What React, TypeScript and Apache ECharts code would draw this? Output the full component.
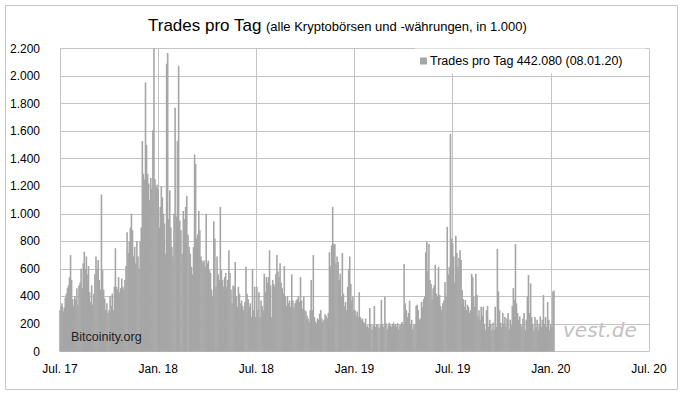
import React, { useEffect, useRef } from "react";
import * as echarts from "echarts";

// Trades per day (in 1,000), one value every 2 days starting 01.07.2017
const h2_2017 = [
  300, 330, 350, 290, 320, 390, 420, 460, 480, 540,
  700, 520, 380, 330, 400, 380, 460, 340, 480, 500,
  600, 460, 640, 725, 600, 690, 560, 620, 430, 360,
  480, 340, 420, 560, 690, 600, 665, 520, 450, 1140,
  590, 450, 385, 300, 350, 280, 300, 400, 330, 420,
  300, 470, 750, 470, 450, 540, 430, 460, 530, 470,
  450, 520, 620, 865, 715, 800, 900, 1000, 880, 690,
  760, 640, 800, 690, 600, 800, 900, 1528, 1290, 1250,
  1953, 1500, 1290, 1220, 1100, 1260, 1180, 1607, 2250, 1250,
  1190, 1210,
];
const h1_2018 = [
  1180, 900, 1050, 1200, 1120, 1000, 930, 710, 2090, 2168,
  960, 1170, 900, 760, 690, 1000, 1770, 980, 1528, 2074,
  950, 880, 710, 1020, 960, 1050, 1130, 850, 760, 710,
  615, 560, 760, 1431, 1361, 820, 850, 1020, 880, 690,
  660, 640, 660, 615, 1000, 640, 660, 590, 570, 450,
  400, 945, 820, 470, 690, 560, 520, 1050, 590, 520,
  470, 540, 570, 470, 520, 735, 570, 450, 350, 480,
  470, 650, 400, 325, 470, 420, 350, 370, 330, 300,
  360, 615, 420, 380, 325, 350, 250, 600, 300, 470, 250,
];
const h2_2018 = [
  470, 300, 430, 250, 370, 330, 300, 565, 430, 540,
  500, 540, 735, 480, 250, 520, 490, 470, 560, 700,
  580, 540, 640, 500, 460, 420, 620, 400, 330, 400,
  350, 370, 325, 560, 370, 320, 350, 370, 380, 400,
  360, 540, 370, 310, 400, 300, 290, 260, 240, 215,
  300, 520, 300, 700, 250, 220, 205, 240, 230, 275,
  300, 240, 215, 230, 270, 260, 240, 280, 720, 620,
  770, 1050, 780, 780, 640, 690, 650, 520, 565, 400,
  715, 420, 330, 360, 300, 470, 600, 690, 490, 370,
  400, 300,
];
const h1_2019 = [
  300, 260, 290, 250, 430, 250, 230, 240, 215, 205,
  240, 180, 190, 170, 315, 200, 160, 190, 330, 180,
  200, 190, 170, 190, 375, 200, 180, 400, 205, 160,
  190, 210, 190, 180, 200, 210, 190, 200, 180, 205,
  160, 190, 200, 215, 200, 635, 350, 300, 250, 280,
  370, 200, 230, 160, 190, 200, 330, 340, 300, 230,
  240, 360, 320, 380, 400, 720, 795, 580, 780, 520,
  490, 380, 460, 480, 630, 420, 400, 615, 410, 330,
  300, 350, 370, 505, 400, 905, 560, 615, 1580, 820,
  785,
];
const h2_2019 = [
  690, 500, 840, 715, 615, 680, 735, 665, 445, 380,
  325, 375, 300, 340, 325, 280, 300, 565, 540, 400,
  325, 565, 410, 255, 300, 230, 325, 260, 325, 200,
  155, 300, 330, 180, 230, 200, 155, 210, 160, 325,
  180, 745, 435, 300, 210, 180, 280, 200, 250, 180,
  240, 280, 160, 230, 190, 330, 460, 375, 780, 350,
  280, 230, 255, 200, 180, 240, 280, 155, 230, 400,
  555, 280, 495, 250, 200, 155, 250, 180, 230, 155,
  200, 255, 180, 230, 410, 200, 250, 180, 360, 230, 155,
];
const jan_2020 = [200, 180, 435, 442];

const xTickLabels = ["Jul. 17", "Jan. 18", "Jul. 18", "Jan. 19", "Jul. 19", "Jan. 20", "Jul. 20"];
const seriesName = "Trades pro Tag 442.080 (08.01.20)";
const titleMain = "Trades pro Tag";
const titleSub = "(alle Kryptobörsen und -währungen, in 1.000)";
const sourceText = "Bitcoinity.org";
const watermarkText = "vest.de";

const START_Y = 2017;
const START_M = 6; // July (0-based)
const DAY_STEP = 2;

const FONT = "'Liberation Sans', Arial, sans-serif";

function monthsSinceStart(i: number): number {
  const d = new Date(Date.UTC(START_Y, START_M, 1 + i * DAY_STEP));
  const y = d.getUTCFullYear();
  const m = d.getUTCMonth();
  const day = d.getUTCDate();
  const dim = new Date(Date.UTC(y, m + 1, 0)).getUTCDate();
  return (y - START_Y) * 12 + (m - START_M) + (day - 1) / dim;
}

function deNum(v: number): string {
  return String(v).replace(/\B(?=(\d{3})+(?!\d))/g, ".");
}

export default function App() {
  const ref = useRef<HTMLDivElement>(null);

  useEffect(() => {
    document.body.style.margin = "0";
    if (!ref.current) return;
    const chart = echarts.init(ref.current, undefined, { renderer: "svg" });
    const values = [...h2_2017, ...h1_2018, ...h2_2018, ...h1_2019, ...h2_2019, ...jan_2020];
    const data = values.map((v, i) => [monthsSinceStart(i), v]);
    const gridColor = "#c3c3c3";
    const barColor = "#a6a6a6";

    chart.setOption({
      animation: false,
      backgroundColor: "#ffffff",
      textStyle: { fontFamily: FONT },
      grid: { left: 60, right: 38, top: 48.5, bottom: 44.5 },
      xAxis: {
        type: "value",
        min: 0,
        max: 36,
        interval: 6,
        axisLine: { show: false },
        axisTick: { show: false },
        splitLine: { show: true, lineStyle: { color: gridColor, width: 1 } },
        axisLabel: {
          formatter: (v: number) => xTickLabels[Math.round(v / 6)] ?? "",
          color: "#000",
          fontSize: 12,
          fontFamily: FONT,
          margin: 11,
          showMinLabel: true,
          showMaxLabel: true,
        },
      },
      yAxis: {
        type: "value",
        min: 0,
        max: 2200,
        interval: 200,
        axisLine: { show: false },
        axisTick: { show: false },
        splitLine: { show: true, lineStyle: { color: gridColor, width: 1 } },
        axisLabel: {
          formatter: (v: number) => deNum(v),
          color: "#000",
          fontSize: 12,
          fontFamily: FONT,
          margin: 20,
        },
      },
      legend: {
        show: true,
        left: 415,
        top: 48.5,
        icon: "rect",
        itemWidth: 7,
        itemHeight: 7,
        selectedMode: false,
        backgroundColor: "#ffffff",
        padding: [6, 23, 6, 5],
        textStyle: { fontSize: 12.5, color: "#000", fontFamily: FONT, padding: [0, 0, 0, -2] },
        data: [seriesName],
      },
      series: [
        {
          type: "bar",
          name: seriesName,
          data,
          barWidth: 1.6,
          clip: true,
          itemStyle: { color: barColor },
          emphasis: { disabled: true },
        },
      ],
      graphic: [
        {
          type: "rect",
          z: 0,
          silent: true,
          shape: { x: 5.5, y: 5.5, width: 672, height: 384 },
          style: { fill: "none", stroke: "#c6c6c6", lineWidth: 1 },
        },
        {
          type: "text",
          z: 10,
          x: 148,
          y: 25,
          style: {
            text: titleMain,
            fontSize: 17,
            fontFamily: FONT,
            fill: "#000",
            verticalAlign: "middle",
            align: "left",
          },
        },
        {
          type: "text",
          z: 10,
          x: 266,
          y: 26.5,
          style: {
            text: titleSub,
            fontSize: 13,
            fontFamily: FONT,
            fill: "#000",
            verticalAlign: "middle",
            align: "left",
          },
        },
        {
          type: "text",
          z: 10,
          x: 71,
          y: 337,
          style: {
            text: sourceText,
            fontSize: 12.5,
            fontFamily: FONT,
            fill: "#222",
            verticalAlign: "middle",
            align: "left",
          },
        },
        {
          type: "text",
          z: 1,
          x: 563,
          y: 330,
          style: {
            text: watermarkText,
            fontSize: 20,
            fontStyle: "italic",
            fontFamily: "'DejaVu Sans', sans-serif",
            fill: "#c2c2c2",
            verticalAlign: "middle",
            align: "left",
          },
        },
      ],
    });

    return () => {
      chart.dispose();
    };
  }, []);

  return (
    <div
      ref={ref}
      style={{ position: "fixed", left: 0, top: 0, width: 687, height: 396, background: "#fff" }}
    />
  );
}
